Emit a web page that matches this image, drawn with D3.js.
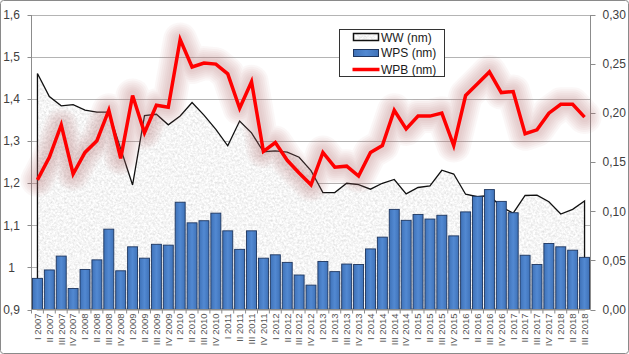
<!DOCTYPE html>
<html>
<head>
<meta charset="utf-8">
<script src="https://cdnjs.cloudflare.com/ajax/libs/d3/7.8.5/d3.min.js"></script>
<style>
body { margin:0; background:#fff; }
svg { font-family: "Liberation Sans", Arial, sans-serif; display:block; }
</style>
</head>
<body>
<svg width="629" height="354"></svg>
<script>
var years = ["2007","2008","2009","2010","2011","2012","2013","2014","2015","2016","2017","2018"];
var quarters = ["I","II","III","IV"];
var categories = [];
for (var y = 0; y < years.length; y++) {
	for (var q = 0; q < 4; q++) {
		if (years[y] == "2018" && q == 3) break;
		categories.push(quarters[q] + " " + years[y]);
	}
}

// WW (nm) - left axis, area
var ww = [1.461,1.406,1.384,1.387,1.374,1.369,1.369,1.282,1.196,1.361,1.364,1.339,
	1.360,1.392,1.362,1.328,1.289,1.348,1.320,1.275,1.277,1.274,1.262,1.230,
	1.178,1.178,1.200,1.197,1.186,1.200,1.209,1.175,1.190,1.194,1.231,1.222,
	1.174,1.168,1.171,1.144,1.129,1.171,1.172,1.156,1.127,1.138,1.158];
// WPS (nm) - left axis, bars
var wps = [0.974,0.994,1.027,0.950,0.995,1.018,1.091,0.992,1.049,1.022,1.055,1.053,
	1.155,1.106,1.111,1.129,1.087,1.043,1.087,1.022,1.030,1.012,0.982,0.958,
	1.014,0.990,1.008,1.007,1.044,1.072,1.138,1.112,1.126,1.115,1.124,1.075,
	1.132,1.169,1.185,1.157,1.130,1.029,1.007,1.057,1.049,1.041,1.024];
// WPB (nm) - right axis, line
var wpb = [0.132,0.155,0.188,0.138,0.160,0.172,0.203,0.154,0.218,0.180,0.208,0.206,
	0.275,0.247,0.251,0.250,0.240,0.205,0.232,0.161,0.170,0.152,0.139,0.127,
	0.160,0.145,0.146,0.136,0.160,0.167,0.203,0.184,0.197,0.197,0.200,0.167,
	0.218,0.230,0.242,0.221,0.222,0.179,0.183,0.200,0.209,0.209,0.196];

var leftTicks = [0.9,1.0,1.1,1.2,1.3,1.4,1.5,1.6];
var rightTicks = [0,0.05,0.10,0.15,0.20,0.25,0.30];
var seriesNames = ["WW (nm)","WPS (nm)","WPB (nm)"];

var svg = d3.select("svg");
var plotL = 31.5, plotR = 590.5, plotT = 15, plotB = 309.5;

var defs = svg.append("defs");
// granite-ish texture for the area
var gr = defs.append("filter").attr("id","granite")
	.attr("x",0).attr("y",0).attr("width","100%").attr("height","100%");
gr.append("feTurbulence").attr("type","fractalNoise").attr("baseFrequency",0.45)
	.attr("numOctaves",3).attr("seed",7).attr("result","noise");
gr.append("feColorMatrix").attr("in","noise").attr("type","matrix")
	.attr("values","0.45 0 0 0 0.69  0.45 0 0 0 0.69  0.45 0 0 0 0.69  0 0 0 0 1").attr("result","gray");
gr.append("feComposite").attr("in","gray").attr("in2","SourceGraphic").attr("operator","in");

var barGrad = defs.append("linearGradient").attr("id","barGrad").attr("x1",0).attr("x2",1).attr("y1",0).attr("y2",0);
barGrad.append("stop").attr("offset","0%").attr("stop-color","#3f72b8");
barGrad.append("stop").attr("offset","50%").attr("stop-color","#5289d2");
barGrad.append("stop").attr("offset","100%").attr("stop-color","#3f72b8");

// outer chart border
svg.append("rect").attr("x",0.5).attr("y",0.5).attr("width",628).attr("height",353)
	.attr("rx",3).attr("fill","#fff").attr("stroke","#8a8a8a");

var x = d3.scaleBand().domain(categories).range([plotL,plotR]).paddingInner(0.16).paddingOuter(0.08);
var yL = d3.scaleLinear().domain([0.9,1.6]).range([plotB,plotT]);
var yR = d3.scaleLinear().domain([0,0.30]).range([plotB,plotT]);
function cx(d){ return x(d) + x.bandwidth()/2; }

// gridlines
svg.append("g").selectAll("line").data(leftTicks.slice(1)).enter().append("line")
	.attr("x1",plotL).attr("x2",plotR)
	.attr("y1",function(d){ return Math.round(yL(d))+0.5; })
	.attr("y2",function(d){ return Math.round(yL(d))+0.5; })
	.attr("stroke","#b4b4b4");

// area WW
var area = d3.area()
	.x(function(d,i){ return cx(categories[i]); })
	.y0(plotB).y1(function(d){ return yL(d); });
svg.append("path").datum(ww).attr("d",area)
	.attr("fill","#ddd").attr("filter","url(#granite)");
svg.append("path").attr("d",area(ww))
	.attr("fill","none").attr("stroke","#111").attr("stroke-width",1.3);

// bars WPS
svg.append("g").selectAll("rect").data(wps).enter().append("rect")
	.attr("x",function(d,i){ return x(categories[i]); })
	.attr("width",x.bandwidth())
	.attr("y",function(d){ return yL(d); })
	.attr("height",function(d){ return plotB - yL(d); })
	.attr("fill","url(#barGrad)").attr("stroke","#1d355e").attr("stroke-width",0.9);

// axes
var axisColor = "#8c8c8c";
svg.append("line").attr("x1",plotL).attr("x2",plotL).attr("y1",plotT).attr("y2",plotB).attr("stroke",axisColor);
svg.append("line").attr("x1",plotR).attr("x2",plotR).attr("y1",plotT).attr("y2",plotB).attr("stroke",axisColor);
svg.append("line").attr("x1",plotL).attr("x2",plotR).attr("y1",plotB).attr("y2",plotB).attr("stroke",axisColor);

svg.append("g").selectAll("line").data(leftTicks).enter().append("line")
	.attr("x1",plotL-4).attr("x2",plotL)
	.attr("y1",function(d){ return Math.round(yL(d))+0.5; })
	.attr("y2",function(d){ return Math.round(yL(d))+0.5; })
	.attr("stroke",axisColor);
svg.append("g").selectAll("line").data(rightTicks).enter().append("line")
	.attr("x1",plotR).attr("x2",plotR+5)
	.attr("y1",function(d){ return Math.round(yR(d))+0.5; })
	.attr("y2",function(d){ return Math.round(yR(d))+0.5; })
	.attr("stroke",axisColor);
svg.append("g").selectAll("line").data(categories).enter().append("line")
	.attr("x1",function(d){ return x(d) - x.step()*x.paddingInner()/2; })
	.attr("x2",function(d){ return x(d) - x.step()*x.paddingInner()/2; })
	.attr("y1",plotB).attr("y2",plotB+4)
	.attr("stroke",axisColor);

var fmtL = function(d){ return (d == 1 ? "1" : d3.format(".1f")(d)).replace(".",","); };
var fmtR = function(d){ return d3.format(".2f")(d).replace(".",","); };

svg.append("g").selectAll("text").data(leftTicks).enter().append("text")
	.attr("x",11.5).attr("y",function(d){ return yL(d); }).attr("dy","0.35em")
	.attr("text-anchor","middle").attr("font-size",12).attr("fill","#404040")
	.text(fmtL);
svg.append("g").selectAll("text").data(rightTicks).enter().append("text")
	.attr("x",602.5).attr("y",function(d){ return yR(d); }).attr("dy","0.35em")
	.attr("font-size",12).attr("fill","#404040")
	.text(fmtR);
svg.append("g").selectAll("text").data(categories).enter().append("text")
	.attr("transform",function(d){ return "translate(" + cx(d) + "," + (plotB+4) + ") rotate(-90)"; })
	.attr("dy","0.35em").attr("text-anchor","end")
	.attr("font-size",9.5).attr("fill","#555")
	.text(function(d){ return d; });

// WPB line; the halo is a few wide translucent strokes stacked underneath
var line = d3.line()
	.x(function(d,i){ return cx(categories[i]); })
	.y(function(d){ return yR(d); });
var halo = svg.append("g").attr("fill","none").attr("stroke-linejoin","round").attr("stroke-linecap","round");
[34,30,26,22,18,14,10].forEach(function(w){
	halo.append("path").datum(wpb).attr("d",line)
		.attr("stroke","#b07070").attr("stroke-width",w).attr("stroke-opacity",0.055);
});
svg.append("path").datum(wpb).attr("d",line)
	.attr("fill","none").attr("stroke","#f00").attr("stroke-width",3.5)
	.attr("stroke-linejoin","miter");

// legend
var lg = svg.append("g").attr("transform","translate(339.5,29.5)");
lg.append("rect").attr("width",105).attr("height",47).attr("fill","#fff").attr("stroke","#333");
lg.append("rect").attr("x",14).attr("y",4).attr("width",25).attr("height",7)
	.attr("fill","#ddd").attr("filter","url(#granite)");
lg.append("rect").attr("x",14).attr("y",4).attr("width",25).attr("height",7)
	.attr("fill","none").attr("stroke","#111").attr("stroke-width",1.5);
lg.append("rect").attr("x",14).attr("y",20).attr("width",25).attr("height",7)
	.attr("fill","url(#barGrad)").attr("stroke","#1d355e");
lg.append("line").attr("x1",13).attr("x2",40).attr("y1",40).attr("y2",40)
	.attr("stroke","#f00").attr("stroke-width",3.5);
lg.selectAll("text.leg").data(seriesNames).enter().append("text")
	.attr("x",41.5).attr("y",function(d,i){ return [8,23.5,40][i]; }).attr("dy","0.35em")
	.attr("font-size",12).attr("fill","#1a1a1a")
	.text(function(d){ return d; });
</script>
</body>
</html>
